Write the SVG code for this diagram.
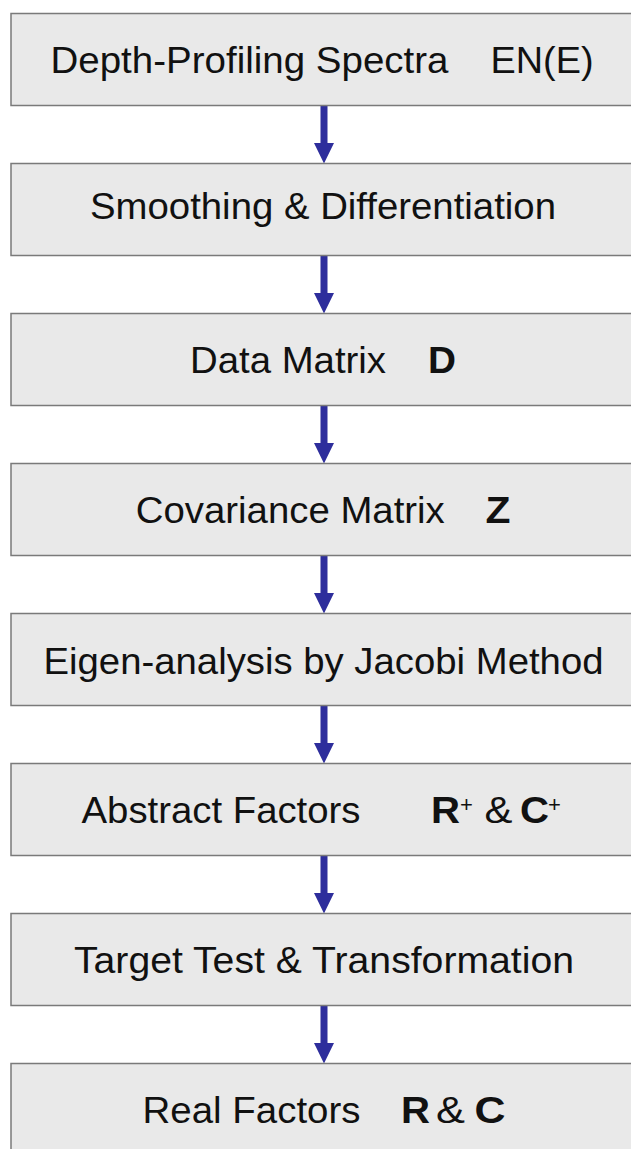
<svg xmlns="http://www.w3.org/2000/svg" width="631" height="1149" viewBox="0 0 631 1149">
<style>
.box{fill:#e9e9e9;stroke:#7a7a7a;stroke-width:1.5}
.t{font-family:"Liberation Sans",Arial,sans-serif;font-size:37px;fill:#111}
.b{font-weight:bold}
.sup{font-family:"Liberation Sans",Arial,sans-serif;font-size:22px;fill:#111}
.arrow{fill:#2e2e9c}
</style>
<rect x="0" y="0" width="631" height="1149" fill="#ffffff"/>
<g id="connectors">
<path class="arrow" d="M320.5,105.5 H327.5 V143 H334 L324,163.5 L314,143 H320.5 Z"/>
<path class="arrow" d="M320.5,255.5 H327.5 V293 H334 L324,313.5 L314,293 H320.5 Z"/>
<path class="arrow" d="M320.5,405.5 H327.5 V443 H334 L324,463.5 L314,443 H320.5 Z"/>
<path class="arrow" d="M320.5,555.5 H327.5 V593 H334 L324,613.5 L314,593 H320.5 Z"/>
<path class="arrow" d="M320.5,705.5 H327.5 V743 H334 L324,763.5 L314,743 H320.5 Z"/>
<path class="arrow" d="M320.5,855.5 H327.5 V893 H334 L324,913.5 L314,893 H320.5 Z"/>
<path class="arrow" d="M320.5,1005.5 H327.5 V1043 H334 L324,1063.5 L314,1043 H320.5 Z"/>
</g>
<g id="n1">
<rect class="box" x="11" y="13.5" width="625" height="92"/>
<text class="t" x="50.5" y="72.7" textLength="398" lengthAdjust="spacingAndGlyphs">Depth-Profiling Spectra</text>
<text class="t" x="490.5" y="72.7" textLength="103" lengthAdjust="spacingAndGlyphs">EN(E)</text>
</g>
<g id="n2">
<rect class="box" x="11" y="163.5" width="625" height="92"/>
<text class="t" x="90" y="219.3" textLength="466" lengthAdjust="spacingAndGlyphs">Smoothing &amp; Differentiation</text>
</g>
<g id="n3">
<rect class="box" x="11" y="313.5" width="625" height="92"/>
<text class="t" x="190" y="373.3" textLength="196" lengthAdjust="spacingAndGlyphs">Data Matrix</text>
<text class="t b" x="428" y="373.3" textLength="28" lengthAdjust="spacingAndGlyphs">D</text>
</g>
<g id="n4">
<rect class="box" x="11" y="463.5" width="625" height="92"/>
<text class="t" x="135.8" y="523.3" textLength="309" lengthAdjust="spacingAndGlyphs">Covariance Matrix</text>
<text class="t b" x="485.5" y="523.3" textLength="25" lengthAdjust="spacingAndGlyphs">Z</text>
</g>
<g id="n5">
<rect class="box" x="11" y="613.5" width="625" height="92"/>
<text class="t" x="43.5" y="674" textLength="560" lengthAdjust="spacingAndGlyphs">Eigen-analysis by Jacobi Method</text>
</g>
<g id="n6">
<rect class="box" x="11" y="763.5" width="625" height="92"/>
<text class="t" x="81.5" y="823" textLength="279" lengthAdjust="spacingAndGlyphs">Abstract Factors</text>
<text class="t b" x="431" y="823" textLength="29" lengthAdjust="spacingAndGlyphs">R</text>
<text class="sup" x="460" y="812">+</text>
<text class="t" x="484.5" y="823" textLength="28" lengthAdjust="spacingAndGlyphs">&amp;</text>
<text class="t b" x="520" y="823" textLength="29" lengthAdjust="spacingAndGlyphs">C</text>
<text class="sup" x="548" y="812">+</text>
</g>
<g id="n7">
<rect class="box" x="11" y="913.5" width="625" height="92"/>
<text class="t" x="74" y="973.3" textLength="500" lengthAdjust="spacingAndGlyphs">Target Test &amp; Transformation</text>
</g>
<g id="n8">
<rect class="box" x="11" y="1063.5" width="625" height="100"/>
<text class="t" x="142.5" y="1122.7" textLength="218" lengthAdjust="spacingAndGlyphs">Real Factors</text>
<text class="t b" x="401" y="1122.7" textLength="29" lengthAdjust="spacingAndGlyphs">R</text>
<text class="t" x="436" y="1122.7" textLength="29" lengthAdjust="spacingAndGlyphs">&amp;</text>
<text class="t b" x="474.5" y="1122.7" textLength="31" lengthAdjust="spacingAndGlyphs">C</text>
</g>
</svg>
